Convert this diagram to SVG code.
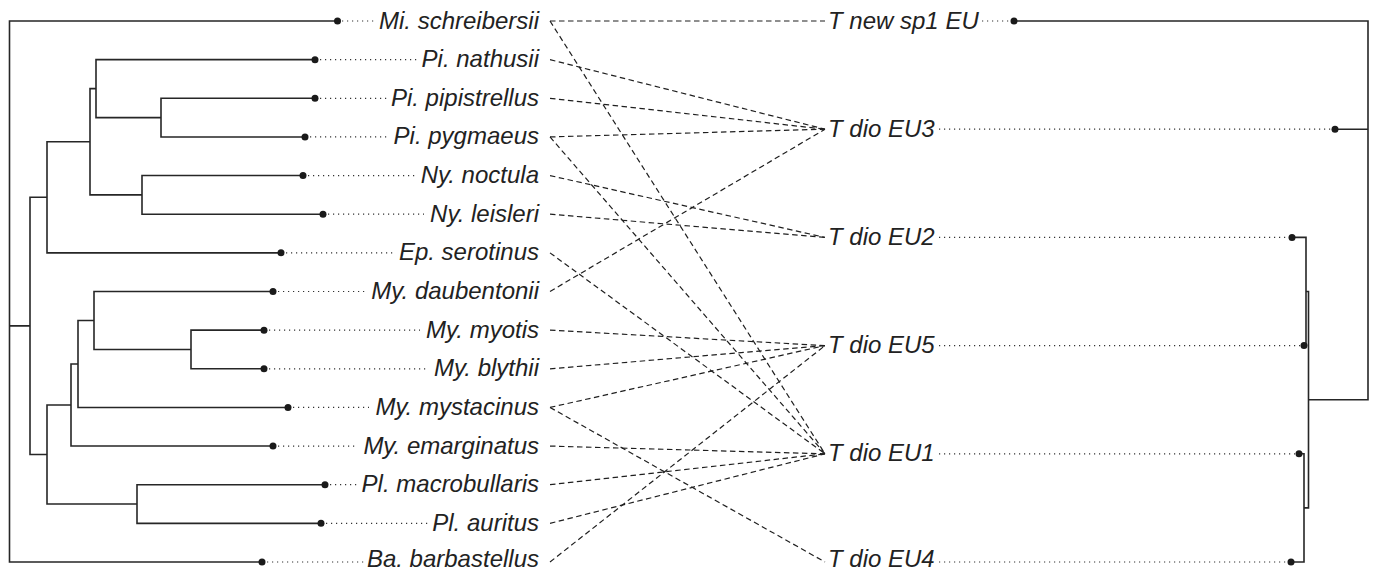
<svg xmlns="http://www.w3.org/2000/svg" width="1375" height="567" viewBox="0 0 1375 567">
<style>
.tree{stroke:#262626;stroke-width:1.6;fill:none;stroke-linejoin:miter}
.dot{fill:#1a1a1a}
.lead{stroke:#333;stroke-width:1.2;stroke-dasharray:1.2 3.8;fill:none}
.link{stroke:#1f1f1f;stroke-width:1.2;stroke-dasharray:5.5 3.5;fill:none}
.lbl{font-family:"Liberation Sans",Arial,sans-serif;font-style:italic;font-size:24px;fill:#222}
.l{text-anchor:end}
</style>
<rect width="1375" height="567" fill="#fff"/>
<g id="host-tree" class="tree">
<path d="M337.5 21H9.5V562H262M9.5 325.92H30"/>
<path d="M47 197.31H30V454.52H47"/>
<path d="M90 141.76H47V252.86H281"/>
<path d="M96 88.63H90V194.89H142"/>
<path d="M315 59.64H96V117.61H161"/>
<path d="M315 98.29H161V136.93H305"/>
<path d="M303 175.57H142V214.21H323"/>
<path d="M71 405.01H47V504.04H137"/>
<path d="M78 363.96H71V446.07H273"/>
<path d="M94 320.48H78V407.43H288"/>
<path d="M273 291.5H94V349.47H191"/>
<path d="M264 330.14H191V368.79H264"/>
<path d="M325 484.71H137V523.36H321"/>
</g>
<g id="parasite-tree" class="tree">
<path d="M1014 21H1368V399.7H1308.5M1335 129.2H1368"/>
<path d="M1306 291.5H1308.5V507.9H1304"/>
<path d="M1292 237.4H1306V345.6H1304"/>
<path d="M1299 453.8H1304V562H1291"/>
</g>
<g id="links" class="link">
<line x1="550" y1="21" x2="825" y2="21"/>
<line x1="550" y1="21" x2="825" y2="453.8"/>
<line x1="550" y1="59.64" x2="825" y2="129.2"/>
<line x1="550" y1="98.29" x2="825" y2="129.2"/>
<line x1="550" y1="136.93" x2="825" y2="129.2"/>
<line x1="550" y1="136.93" x2="825" y2="453.8"/>
<line x1="550" y1="175.57" x2="825" y2="237.4"/>
<line x1="550" y1="214.21" x2="825" y2="237.4"/>
<line x1="550" y1="252.86" x2="825" y2="453.8"/>
<line x1="550" y1="291.5" x2="825" y2="129.2"/>
<line x1="550" y1="330.14" x2="825" y2="345.6"/>
<line x1="550" y1="368.79" x2="825" y2="345.6"/>
<line x1="550" y1="407.43" x2="825" y2="345.6"/>
<line x1="550" y1="407.43" x2="825" y2="562"/>
<line x1="550" y1="446.07" x2="825" y2="453.8"/>
<line x1="550" y1="484.71" x2="825" y2="453.8"/>
<line x1="550" y1="523.36" x2="825" y2="453.8"/>
<line x1="550" y1="562" x2="825" y2="345.6"/>
</g>
<g id="h-mi"><circle class="dot" cx="337.5" cy="21" r="3.5"/><line class="lead" x1="342" y1="21" x2="375" y2="21"/><text class="lbl l" x="539" y="28.5">Mi. schreibersii</text></g>
<g id="h-pin"><circle class="dot" cx="315" cy="59.64" r="3.5"/><line class="lead" x1="320" y1="59.64" x2="418" y2="59.64"/><text class="lbl l" x="539" y="67.14">Pi. nathusii</text></g>
<g id="h-pipi"><circle class="dot" cx="315" cy="98.29" r="3.5"/><line class="lead" x1="320" y1="98.29" x2="387" y2="98.29"/><text class="lbl l" x="539" y="105.79">Pi. pipistrellus</text></g>
<g id="h-pipy"><circle class="dot" cx="305" cy="136.93" r="3.5"/><line class="lead" x1="310" y1="136.93" x2="390" y2="136.93"/><text class="lbl l" x="539" y="144.43">Pi. pygmaeus</text></g>
<g id="h-nyn"><circle class="dot" cx="303" cy="175.57" r="3.5"/><line class="lead" x1="308" y1="175.57" x2="415" y2="175.57"/><text class="lbl l" x="539" y="183.07">Ny. noctula</text></g>
<g id="h-nyl"><circle class="dot" cx="323" cy="214.21" r="3.5"/><line class="lead" x1="328" y1="214.21" x2="424" y2="214.21"/><text class="lbl l" x="539" y="221.71">Ny. leisleri</text></g>
<g id="h-ep"><circle class="dot" cx="281" cy="252.86" r="3.5"/><line class="lead" x1="286" y1="252.86" x2="395" y2="252.86"/><text class="lbl l" x="539" y="260.36">Ep. serotinus</text></g>
<g id="h-myd"><circle class="dot" cx="273" cy="291.5" r="3.5"/><line class="lead" x1="278" y1="291.5" x2="366" y2="291.5"/><text class="lbl l" x="539" y="299">My. daubentonii</text></g>
<g id="h-mym"><circle class="dot" cx="264" cy="330.14" r="3.5"/><line class="lead" x1="269" y1="330.14" x2="420" y2="330.14"/><text class="lbl l" x="539" y="337.64">My. myotis</text></g>
<g id="h-myb"><circle class="dot" cx="264" cy="368.79" r="3.5"/><line class="lead" x1="269" y1="368.79" x2="428" y2="368.79"/><text class="lbl l" x="539" y="376.29">My. blythii</text></g>
<g id="h-mymy"><circle class="dot" cx="288" cy="407.43" r="3.5"/><line class="lead" x1="293" y1="407.43" x2="369" y2="407.43"/><text class="lbl l" x="539" y="414.93">My. mystacinus</text></g>
<g id="h-mye"><circle class="dot" cx="273" cy="446.07" r="3.5"/><line class="lead" x1="278" y1="446.07" x2="357" y2="446.07"/><text class="lbl l" x="539" y="453.57">My. emarginatus</text></g>
<g id="h-plm"><circle class="dot" cx="325" cy="484.71" r="3.5"/><line class="lead" x1="330" y1="484.71" x2="357" y2="484.71"/><text class="lbl l" x="539" y="492.21">Pl. macrobullaris</text></g>
<g id="h-pla"><circle class="dot" cx="321" cy="523.36" r="3.5"/><line class="lead" x1="326" y1="523.36" x2="428" y2="523.36"/><text class="lbl l" x="539" y="530.86">Pl. auritus</text></g>
<g id="h-ba"><circle class="dot" cx="262" cy="562" r="3.5"/><line class="lead" x1="267" y1="562" x2="365" y2="562"/><text class="lbl l" x="539" y="566.5">Ba. barbastellus</text></g>
<g id="p-new"><text class="lbl" x="828" y="28.5">T new sp1 EU</text><line class="lead" x1="982" y1="21" x2="1010" y2="21"/><circle class="dot" cx="1014" cy="21" r="3.5"/></g>
<g id="p-eu3"><text class="lbl" x="828" y="136.7">T dio EU3</text><line class="lead" x1="939" y1="129.2" x2="1331" y2="129.2"/><circle class="dot" cx="1335" cy="129.2" r="3.5"/></g>
<g id="p-eu2"><text class="lbl" x="828" y="244.9">T dio EU2</text><line class="lead" x1="939" y1="237.4" x2="1288" y2="237.4"/><circle class="dot" cx="1292" cy="237.4" r="3.5"/></g>
<g id="p-eu5"><text class="lbl" x="828" y="353.1">T dio EU5</text><line class="lead" x1="939" y1="345.6" x2="1300" y2="345.6"/><circle class="dot" cx="1304" cy="345.6" r="3.5"/></g>
<g id="p-eu1"><text class="lbl" x="828" y="461.3">T dio EU1</text><line class="lead" x1="939" y1="453.8" x2="1295" y2="453.8"/><circle class="dot" cx="1299" cy="453.8" r="3.5"/></g>
<g id="p-eu4"><text class="lbl" x="828" y="566.5">T dio EU4</text><line class="lead" x1="939" y1="562" x2="1287" y2="562"/><circle class="dot" cx="1291" cy="562" r="3.5"/></g>
</svg>
